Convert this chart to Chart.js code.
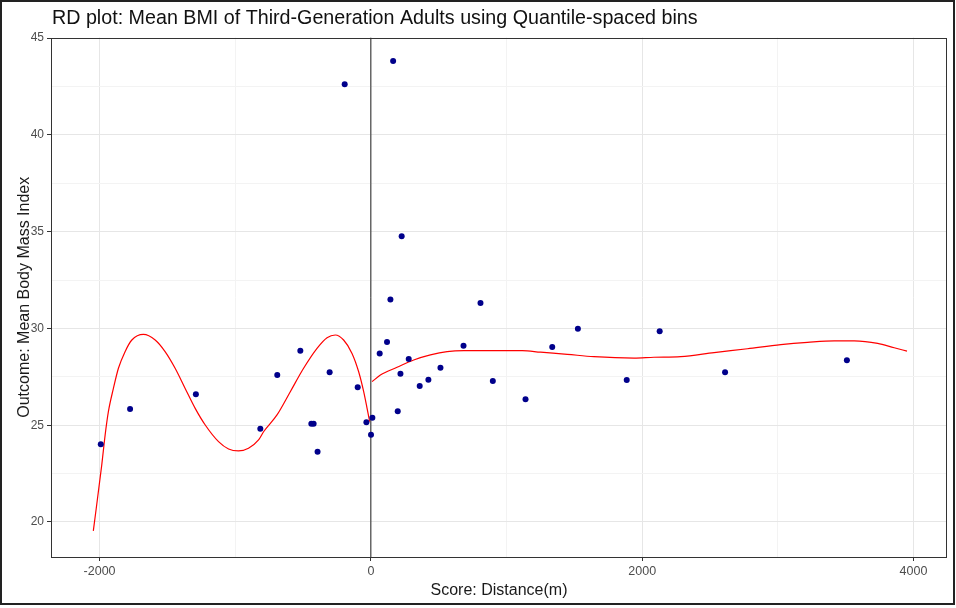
<!DOCTYPE html>
<html>
<head>
<meta charset="utf-8">
<script src="https://cdn.jsdelivr.net/npm/chart.js@4.4.1/dist/chart.umd.min.js"></script>
<style>
  html, body { margin: 0; padding: 0; background: #fff; }
  #wrap { width: 956px; height: 608px; position: relative; }
</style>
</head>
<body>
<div id="wrap"><canvas id="rdChart" width="956" height="608"></canvas></div>
<script>
// binned means (quantile-spaced bins)
const binX = [-1991, -1775, -1290, -815, -690, -520, -439, -422, -393, -304, -193, -97, -33,
  1, 11, 65, 119, 144, 164, 198, 218, 227, 279, 360, 424, 513, 683, 808, 899, 1140,
  1337, 1526, 1886, 2129, 2611, 3509];
const binY = [24.01, 25.84, 26.60, 24.82, 27.59, 28.85, 25.08, 25.08, 23.63, 27.73, 42.62, 26.96, 25.15,
  24.51, 25.39, 28.71, 29.30, 31.50, 43.81, 25.72, 27.66, 34.76, 28.42, 27.02, 27.35, 27.97, 29.11, 31.31, 27.28, 26.34,
  29.04, 29.98, 27.34, 29.85, 27.73, 28.35];

// polynomial fit, left of cutoff
const leftFitX = [-2046, -1984, -1959, -1935, -1898, -1861, -1812, -1762, -1677, -1590, -1517, -1443,
  -1369, -1295, -1221, -1123, -1049, -976, -902, -828, -791, -692, -594, -496, -397, -323, -262,
  -201, -139, -90, -53, -28, -9];
const leftFitY = [19.54, 22.94, 24.49, 25.70, 26.90, 27.94, 28.80, 29.40, 29.69, 29.40, 28.80, 27.94,
  26.90, 25.87, 25.01, 24.15, 23.77, 23.67, 23.81, 24.24, 24.66, 25.53, 26.73, 27.94, 28.97, 29.52, 29.66,
  29.40, 28.71, 27.76, 26.73, 25.87, 25.18];

// polynomial fit, right of cutoff
const rightFitX = [9, 70, 193, 316, 439, 562, 685, 931, 1116, 1251, 1448, 1644, 1940, 2087, 2284,
  2530, 2776, 3022, 3219, 3416, 3563, 3736, 3858, 3952];
const rightFitY = [27.25, 27.59, 27.99, 28.37, 28.63, 28.80, 28.85, 28.85, 28.85, 28.77, 28.66, 28.54, 28.47, 28.51, 28.54,
  28.75, 28.95, 29.16, 29.28, 29.36, 29.36, 29.23, 29.00, 28.83];

const xTicks = [-2000, -1000, 0, 1000, 2000, 3000, 4000];
const yTicks = [20, 22.5, 25, 27.5, 30, 32.5, 35, 37.5, 40, 42.5, 45];
const xRange = [-2358, 4247];
const yRange = [18.19, 45.03];
const cutoff = 0;

const toPts = (xs, ys) => xs.map((x, i) => ({ x, y: ys[i] }));
const isMajorX = v => v % 2000 === 0;
const isMajorY = v => v % 5 === 0;
const FONT = '"Liberation Sans", Arial, sans-serif';

// panel border, outer frame and title
const framePlugin = {
  id: 'framePlugin',
  afterDraw(chart) {
    const { ctx, chartArea: a } = chart;
    ctx.save();
    ctx.strokeStyle = '#333333';
    ctx.lineWidth = 1;
    ctx.strokeRect(Math.round(a.left) + 0.5, Math.round(a.top) + 0.5,
      Math.round(a.right - a.left) - 1, Math.round(a.bottom - a.top) - 1);
    ctx.strokeStyle = '#222';
    ctx.lineWidth = 2;
    ctx.strokeRect(1, 1, 953, 603);
    ctx.fillStyle = '#111';
    ctx.font = '19.7px ' + FONT;
    ctx.textBaseline = 'middle';
    ctx.textAlign = 'left';
    ctx.fillText('RD plot: Mean BMI of Third-Generation Adults using Quantile-spaced bins', 52, 19);
    ctx.restore();
  }
};

new Chart(document.getElementById('rdChart'), {
  type: 'scatter',
  data: {
    datasets: [
      {
        label: 'Bins',
        data: toPts(binX, binY),
        backgroundColor: '#00008b',
        borderColor: '#00008b',
        pointRadius: 3,
        pointBorderWidth: 0
      },
      {
        label: 'Fit left',
        type: 'line',
        data: toPts(leftFitX, leftFitY),
        borderColor: '#ff0000',
        borderWidth: 1.2,
        pointRadius: 0,
        cubicInterpolationMode: 'monotone',
        fill: false
      },
      {
        label: 'Fit right',
        type: 'line',
        data: toPts(rightFitX, rightFitY),
        borderColor: '#ff0000',
        borderWidth: 1.2,
        pointRadius: 0,
        cubicInterpolationMode: 'monotone',
        fill: false
      },
      {
        label: 'Cutoff',
        type: 'line',
        data: [{ x: cutoff, y: yRange[0] }, { x: cutoff, y: yRange[1] }],
        borderColor: '#222',
        borderWidth: 1,
        pointRadius: 0,
        fill: false
      }
    ]
  },
  options: {
    responsive: false,
    animation: false,
    layout: { padding: { top: 37.5, right: 9, left: 0, bottom: 0 } },
    plugins: { legend: { display: false }, tooltip: { enabled: false }, title: { display: false } },
    scales: {
      x: {
        type: 'linear',
        min: xRange[0],
        max: xRange[1],
        afterBuildTicks: s => { s.ticks = xTicks.map(v => ({ value: v })); },
        afterFit: s => { s.height = 51; },
        border: { display: false },
        grid: {
          color: c => isMajorX(c.tick.value) ? '#e6e6e6' : '#f3f3f3',
          tickColor: c => isMajorX(c.tick.value) ? '#333333' : 'rgba(0,0,0,0)',
          tickLength: 4,
          lineWidth: 1
        },
        ticks: {
          autoSkip: false,
          maxRotation: 0,
          padding: 3,
          color: '#4d4d4d',
          font: { family: FONT, size: 12.5 },
          callback: v => isMajorX(v) ? String(v) : ''
        },
        title: {
          display: true,
          text: 'Score: Distance(m)',
          color: '#1a1a1a',
          font: { family: FONT, size: 16 },
          padding: { top: 0, bottom: 8 }
        }
      },
      y: {
        type: 'linear',
        min: yRange[0],
        max: yRange[1],
        afterBuildTicks: s => { s.ticks = yTicks.map(v => ({ value: v })); },
        afterFit: s => { s.width = 51; },
        border: { display: false },
        grid: {
          color: c => isMajorY(c.tick.value) ? '#e6e6e6' : '#f3f3f3',
          tickColor: c => isMajorY(c.tick.value) ? '#333333' : 'rgba(0,0,0,0)',
          tickLength: 4,
          lineWidth: 1
        },
        ticks: {
          autoSkip: false,
          padding: 3,
          color: '#4d4d4d',
          font: { family: FONT, size: 12 },
          callback: v => isMajorY(v) ? String(v) : ''
        },
        title: {
          display: true,
          text: 'Outcome: Mean Body Mass Index',
          color: '#1a1a1a',
          font: { family: FONT, size: 16 },
          padding: { top: 15, bottom: 0 }
        }
      }
    }
  },
  plugins: [framePlugin]
});
</script>
</body>
</html>
